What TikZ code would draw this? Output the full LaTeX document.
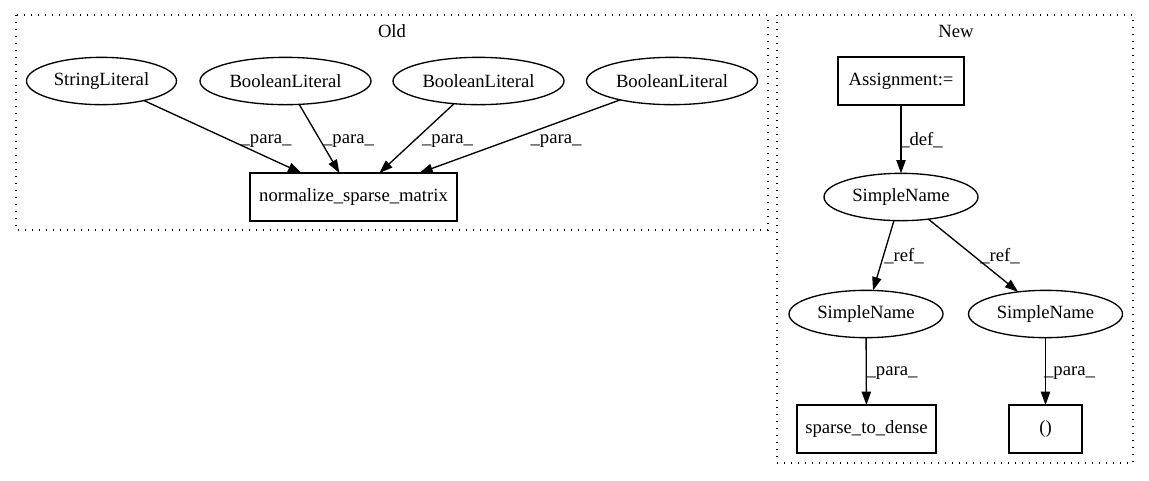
\documentclass[tikz,border=0pt]{standalone}
\usepackage{fontspec}
\setmainfont{Liberation Serif}
\usetikzlibrary{shapes.geometric,arrows.meta}
\begin{document}
\begin{tikzpicture}[x=0.75pt,y=-0.75pt,
  font=\fontsize{14}{16}\selectfont,
  every node/.style={inner sep=0pt,outer sep=0pt},
  ell/.style={draw,ellipse,line width=1pt,minimum height=35.5pt},
  box/.style={draw,rectangle,line width=1pt,minimum height=36pt},
  cluster/.style={draw,line width=1pt,dash pattern=on 1pt off 4.25pt},
  edge/.style={line width=1pt,-{Triangle[length=10pt,width=7pt]}},
  lbl/.style={anchor=center}]
\useasboundingbox (0,0) rectangle (1149,480);
% clusters
\draw[cluster] (16,15) rectangle (768,230);
\draw[cluster] (777,15) rectangle (1133,463);
\node (oldlbl) at (392,31) {Old};
\node (newlbl) at (956,31) {New};
% Old nodes
\node[ell,minimum width=112.5pt] (s1) at (101.5,81) {StringLiteral};
\node[ell,minimum width=128.25pt] (b1) at (285.5,81) {BooleanLiteral};
\node[ell,minimum width=128.25pt] (b2) at (478.5,81) {BooleanLiteral};
\node[ell,minimum width=128.25pt] (b3) at (672,81) {BooleanLiteral};
\node[box,minimum width=155.25pt] (nm) at (353.5,197) {normalize\_sparse\_matrix};
% New nodes
\node[box,minimum width=94.5pt] (asg) at (901,81) {Assignment:=};
\node[ell,minimum width=115.5pt] (sn0) at (901,197) {SimpleName};
\node[ell,minimum width=115.5pt] (sn1) at (866,314) {SimpleName};
\node[ell,minimum width=115.5pt] (sn2) at (1045.5,314) {SimpleName};
\node[box,minimum width=104.25pt] (std) at (866.5,429) {sparse\_to\_dense};
\node[box,minimum width=54.75pt] (par) at (1045.5,429) {()};
% edges
\draw[edge] (s1) -- (nm) node[lbl] at (266,141) {\_para\_};
\draw[edge] (b1) -- (nm) node[lbl] at (348.5,141) {\_para\_};
\draw[edge] (b2) -- (nm) node[lbl] at (447.5,141) {\_para\_};
\draw[edge] (b3) -- (nm) node[lbl] at (556,141) {\_para\_};
\draw[edge] (asg) -- (sn0) node[lbl] at (921.5,140) {\_def\_};
\draw[edge] (sn0) -- (sn1) node[lbl] at (904,256) {\_ref\_};
\draw[edge] (sn0) -- (sn2) node[lbl] at (1000,256) {\_ref\_};
\draw[edge] (sn1) -- (std) node[lbl] at (892,373) {\_para\_};
\draw[edge] (sn2) -- (par) node[lbl] at (1069.5,373) {\_para\_};
\end{tikzpicture}
\end{document}
